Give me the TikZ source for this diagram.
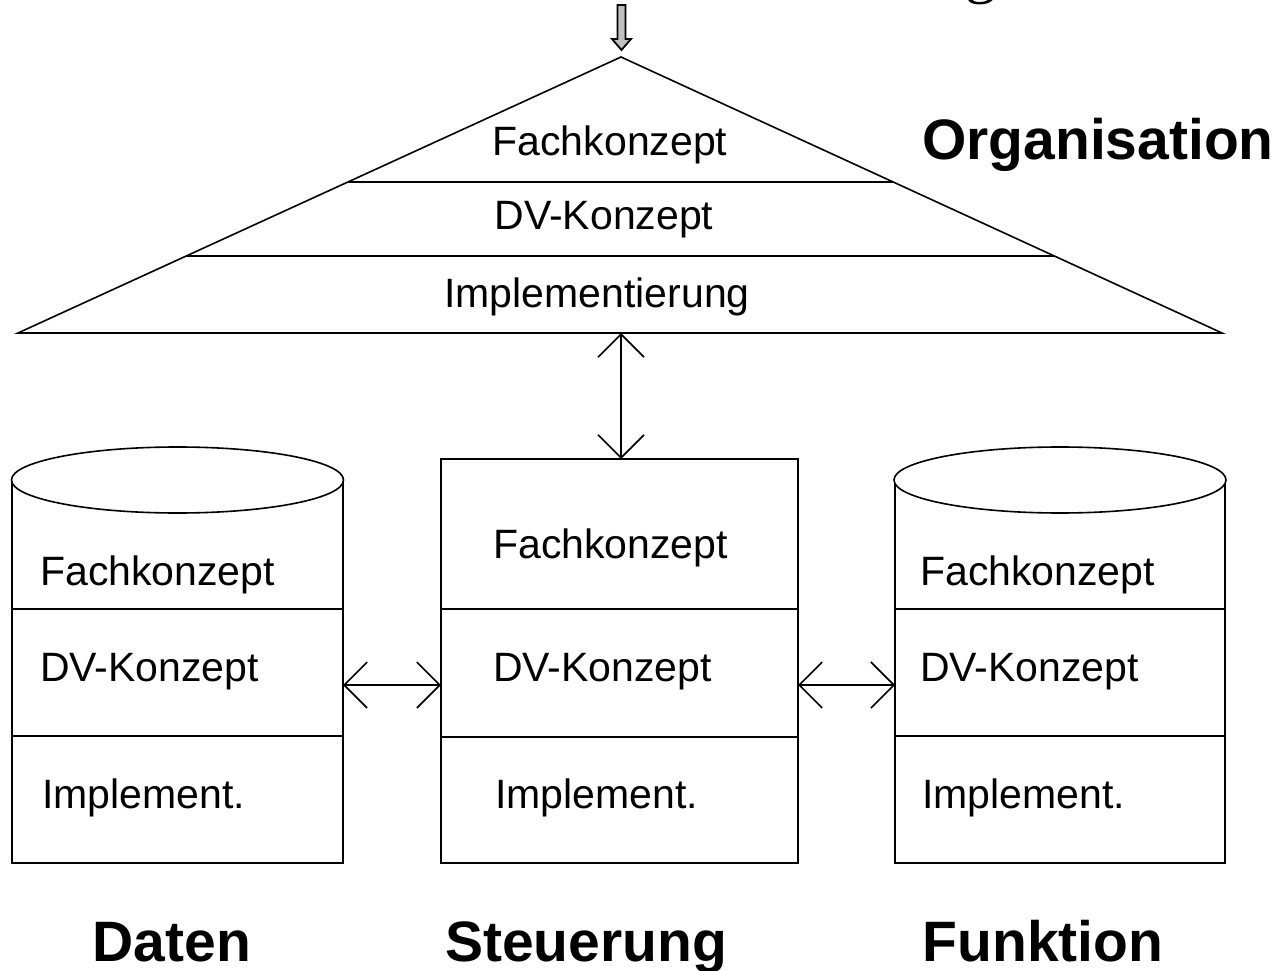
\documentclass[tikz,border=0pt]{standalone}
\usepackage{fontspec}
\setmainfont{Liberation Sans}
\newfontfamily\serifg{Liberation Serif}
\usetikzlibrary{arrows.meta,calc}
\tikzset{
  ln/.style={line width=1.6pt, black},
  dbl/.style={line width=1.6pt, {Straight Barb[length=23pt,width=46pt,line width=1.6pt]}-{Straight Barb[length=23pt,width=46pt,line width=1.6pt]}},
  lbl/.style={inner sep=0pt, font=\fontsize{41}{48}\selectfont},
  big/.style={inner sep=0pt, anchor=base, font=\fontsize{57}{64}\selectfont\bfseries},
}
\begin{document}
\begin{tikzpicture}[x=1pt,y=-1pt]
\useasboundingbox (0,0) rectangle (1283,971);
\clip (0,0) rectangle (1283,971);
\fill[white] (0,0) rectangle (1283,971);

% partial title glyph at the top edge
\node[anchor=base, inner sep=0pt, font=\serifg\fontsize{62}{70}\selectfont] (titleg) at (981,-8) {g};

% top input arrow
\coordinate (apex) at (621,57);
\draw[line width=1.8pt, fill=black!25] (617.5,5) -- (625.5,5) -- (625.5,39) -- (631,39) -- (621.5,50) -- (612,39) -- (617.5,39) -- cycle;

% triangle (Organisation)
\coordinate (bl) at (18,333);
\coordinate (br) at (1222,333);
\draw[ln] (bl) -- (apex) -- (br) -- cycle;
\draw[ln] ($(apex)!0.4529!(bl)$) -- ($(apex)!0.4529!(br)$);
\draw[ln] ($(apex)!0.7210!(bl)$) -- ($(apex)!0.7210!(br)$);
\node[lbl] (tFach) at (610,145) {Fachkonzept};
\node[lbl] (tDV) at (604,220) {DV-Konzept};
\node[lbl] (tImpl) at (597,297) {Implementierung};
\node[big] (org) at (1098,160) {Organisation};
\coordinate (triB) at (621,333);

% middle box (Steuerung)
\node[draw, ln, minimum width=357pt, minimum height=404pt, inner sep=0pt] (steu) at (619.5,661) {};
\draw[ln] (441,609) -- (798,609);
\draw[ln] (441,737) -- (798,737);
\node[lbl, anchor=west] (sFach) at (493,548) {Fachkonzept};
\node[lbl, anchor=west] (sDV) at (493,672) {DV-Konzept};
\node[lbl, anchor=west] (sImpl) at (495,798) {Implement.};

% left cylinder (Daten)
\draw[ln] (12,480) -- (12,863) -- (343,863) -- (343,480);
\draw[ln, fill=white] (177.5,480) ellipse [x radius=166, y radius=33];
\draw[ln] (12,609) -- (343,609);
\draw[ln] (12,736) -- (343,736);
\node[lbl, anchor=west] (dFach) at (40,575) {Fachkonzept};
\node[lbl, anchor=west] (dDV) at (40,672) {DV-Konzept};
\node[lbl, anchor=west] (dImpl) at (42,798) {Implement.};

% right cylinder (Funktion)
\draw[ln] (895,480) -- (895,863) -- (1225,863) -- (1225,480);
\draw[ln, fill=white] (1060,480) ellipse [x radius=166, y radius=33];
\draw[ln] (895,609) -- (1225,609);
\draw[ln] (895,736) -- (1225,736);
\node[lbl, anchor=west] (fFach) at (920,575) {Fachkonzept};
\node[lbl, anchor=west] (fDV) at (920,672) {DV-Konzept};
\node[lbl, anchor=west] (fImpl) at (922,798) {Implement.};

% connectors
\coordinate (dE) at (343,685);
\coordinate (sW) at (441,685);
\coordinate (sE) at (798,685);
\coordinate (fW) at (895,685);
\coordinate (sN) at (621,459);
\draw[dbl] (triB) -- (sN);
\draw[dbl] (dE) -- (sW);
\draw[dbl] (sE) -- (fW);

% bottom labels
\node[big] (daten) at (172,961) {Daten};
\node[big] (steuL) at (586,961) {Steuerung};
\node[big] (funk) at (1043,961) {Funktion};
\end{tikzpicture}
\end{document}
